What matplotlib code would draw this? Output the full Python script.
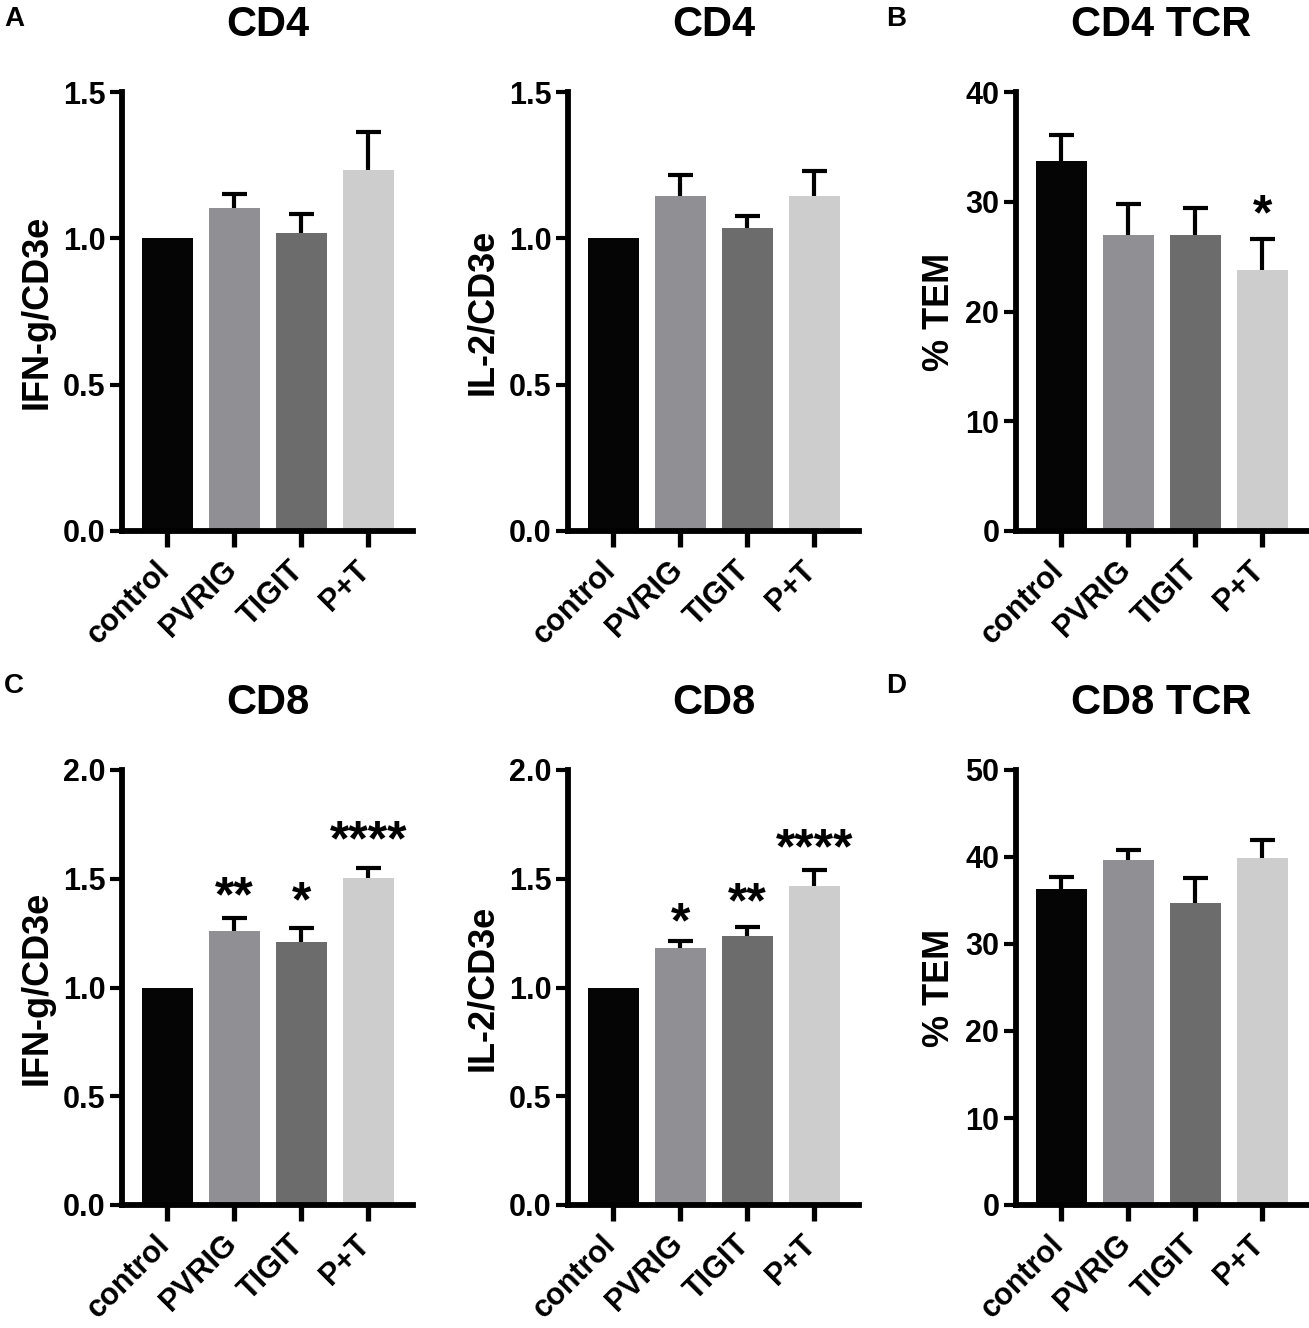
import numpy as np
import matplotlib
matplotlib.use('Agg')
import matplotlib.pyplot as plt

plt.rcParams['font.family'] = ['Liberation Sans', 'DejaVu Sans']
plt.rcParams['font.weight'] = 'bold'

groups = ['control', 'PVRIG', 'TIGIT', 'P+T']
colors = ['#050505', '#8f8f94', '#6c6c6c', '#cdcdcd']

# CD4, IFN-g / CD3e
cd4_ifng = [1.0, 1.105, 1.017, 1.235]
cd4_ifng_err = [0, 0.046, 0.067, 0.13]
# CD4, IL-2 / CD3e
cd4_il2 = [1.0, 1.143, 1.035, 1.145]
cd4_il2_err = [0, 0.073, 0.041, 0.085]
# CD4 TCR, % TEM
cd4_tem = [33.7, 27.0, 27.0, 23.8]
cd4_tem_err = [2.4, 2.8, 2.4, 2.8]
cd4_tem_stars = ['', '', '', '*']
cd4_tem_star_y = [0, 0, 0, 29.7]
# CD8, IFN-g / CD3e
cd8_ifng = [1.0, 1.262, 1.208, 1.502]
cd8_ifng_err = [0, 0.056, 0.067, 0.048]
cd8_ifng_stars = ['', '**', '*', '****']
cd8_ifng_star_y = [0, 1.46, 1.436, 1.72]
# CD8, IL-2 / CD3e
cd8_il2 = [1.0, 1.18, 1.236, 1.466]
cd8_il2_err = [0, 0.036, 0.041, 0.073]
cd8_il2_stars = ['', '*', '**', '****']
cd8_il2_star_y = [0, 1.341, 1.433, 1.681]
# CD8 TCR, % TEM
cd8_tem = [36.3, 39.7, 34.7, 39.9]
cd8_tem_err = [1.4, 1.15, 2.9, 2.1]

W, H = 1309, 1328
fig = plt.figure(figsize=(W / 100, H / 100), dpi=100)


def make_ax(left, top, bottom):
    return fig.add_axes([left / W, 1 - bottom / H, 291 / W, (bottom - top) / H])


def draw(ax, vals, errs, ymax, ystep, fmt, ylabel, title, stars=None, star_y=None):
    x = np.arange(len(groups))
    ax.bar(x, vals, width=0.76, color=colors, zorder=2)
    idx = [i for i in range(len(vals)) if errs[i] > 0]
    v = np.array(vals)[idx]
    e = np.array(errs)[idx]
    # upper error only: stem from bar top to cap
    ax.vlines(x[idx], v, v + e, color='black', linewidth=3.0, zorder=3)
    ax.plot(x[idx], v + e, linestyle='none', marker='_', markersize=18,
            markeredgewidth=3.0, color='black', zorder=3)
    if stars:
        for i, s in enumerate(stars):
            if s:
                ax.annotate(s, (x[i], star_y[i]), xytext=(0, -8),
                            textcoords='offset points', ha='center',
                            va='center', fontsize=36, fontweight='bold')
    ax.set_xlim(-0.68, 3.67)
    ax.set_ylim(0, ymax)
    for s in ['top', 'right']:
        ax.spines[s].set_visible(False)
    for s in ['left', 'bottom']:
        ax.spines[s].set_linewidth(4.2)
    ticks = np.arange(0, ymax + ystep / 2, ystep)
    ax.set_yticks(ticks)
    ax.set_yticklabels([fmt % t for t in ticks])
    ax.set_xticks(x)
    ax.set_xticklabels(groups, rotation=45, ha='right')
    ax.tick_params(axis='y', length=9, width=3.0, labelsize=22, pad=3)
    ax.tick_params(axis='x', length=11.5, width=3.8, labelsize=22, pad=6)
    offset = matplotlib.transforms.ScaledTranslation(8 / 100, 0, fig.dpi_scale_trans)
    for lab in ax.get_xticklabels():
        lab.set_transform(lab.get_transform() + offset)
    ax.set_ylabel(ylabel, fontsize=26, fontweight='bold', labelpad=6)
    ax.set_title(title, fontsize=30, fontweight='bold', pad=40)


top1, bot1 = 92, 531
top2, bot2 = 770, 1205

ax = make_ax(122, top1, bot1)
draw(ax, cd4_ifng, cd4_ifng_err, 1.5, 0.5, '%.1f', 'IFN-g/CD3e', 'CD4')
ax = make_ax(568, top1, bot1)
draw(ax, cd4_il2, cd4_il2_err, 1.5, 0.5, '%.1f', 'IL-2/CD3e', 'CD4')
ax = make_ax(1016, top1, bot1)
draw(ax, cd4_tem, cd4_tem_err, 40, 10, '%d', '% TEM', 'CD4 TCR',
     cd4_tem_stars, cd4_tem_star_y)

ax = make_ax(122, top2, bot2)
draw(ax, cd8_ifng, cd8_ifng_err, 2.0, 0.5, '%.1f', 'IFN-g/CD3e', 'CD8',
     cd8_ifng_stars, cd8_ifng_star_y)
ax = make_ax(568, top2, bot2)
draw(ax, cd8_il2, cd8_il2_err, 2.0, 0.5, '%.1f', 'IL-2/CD3e', 'CD8',
     cd8_il2_stars, cd8_il2_star_y)
ax = make_ax(1016, top2, bot2)
draw(ax, cd8_tem, cd8_tem_err, 50, 10, '%d', '% TEM', 'CD8 TCR')

for letter, px, py in [('A', 4, 6), ('B', 886, 6), ('C', 4, 673), ('D', 886, 673)]:
    fig.text(px / W, 1 - py / H, letter, ha='left', va='top',
             fontsize=20, fontweight='bold')

fig.savefig('out.png', dpi=100)
